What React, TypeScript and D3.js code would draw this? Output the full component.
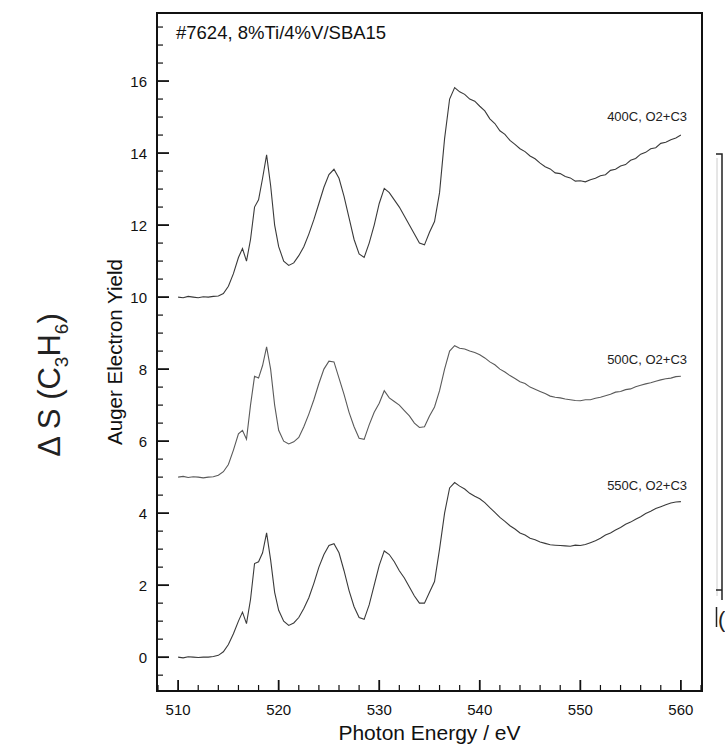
import React from "react";
import * as d3 from "d3";

const energies = [
  510, 510.5, 511, 511.5, 512, 512.5, 513, 513.5, 514, 514.5, 515, 515.5, 516,
  516.4, 516.8, 517.2, 517.6, 518, 518.4, 518.8, 519.2, 519.6, 520,
  520.5, 521, 521.5, 522, 522.5, 523, 523.5, 524, 524.5, 525, 525.5, 526, 526.5,
  527, 527.5, 528, 528.5, 529, 529.5, 530, 530.5, 531, 531.5, 532, 532.5, 533,
  533.5, 534, 534.5, 535, 535.5, 536, 536.5, 537, 537.5, 538, 538.5, 539, 539.5, 540,
  540.5, 541, 541.5, 542, 542.5, 543, 543.5, 544, 544.5, 545, 545.5, 546, 546.5,
  547, 547.5, 548, 548.5, 549, 549.5, 550, 550.5, 551, 551.5, 552, 552.5, 553,
  553.5, 554, 554.5, 555, 555.5, 556, 556.5, 557, 557.5, 558, 558.5, 559, 559.5, 560,
];

const s400 = [
  10.0, 9.98, 10.02, 10.0, 9.98, 10.01, 10.0, 10.02, 10.03, 10.1, 10.3, 10.65, 11.1,
  11.35, 11.0, 11.6, 12.5, 12.7, 13.3, 13.95, 13.1, 12.0, 11.4,
  11.0, 10.88, 10.95, 11.15, 11.4, 11.75, 12.15, 12.6, 13.05, 13.4, 13.55, 13.3, 12.8,
  12.2, 11.6, 11.2, 11.1, 11.5, 12.0, 12.6, 13.02, 12.9, 12.7, 12.5, 12.25, 12.0,
  11.75, 11.5, 11.45, 11.8, 12.1, 12.9, 14.4, 15.5, 15.82, 15.7, 15.63, 15.5, 15.44, 15.3,
  15.17, 14.95, 14.82, 14.62, 14.52, 14.35, 14.24, 14.12, 14.04, 13.92, 13.84, 13.72, 13.62,
  13.56, 13.45, 13.43, 13.35, 13.31, 13.22, 13.23, 13.2, 13.26, 13.3, 13.37, 13.4, 13.52,
  13.55, 13.64, 13.68, 13.8, 13.85, 13.97, 14.02, 14.12, 14.15, 14.27, 14.3, 14.37, 14.42, 14.5,
];

const s500 = [
  5.0, 5.02, 4.99, 5.01, 5.0, 4.98, 5.0, 5.01, 5.05, 5.15, 5.35, 5.75, 6.2,
  6.3, 6.05, 7.0, 7.8, 7.75, 8.1, 8.62, 8.0, 7.0, 6.3,
  6.0, 5.92, 5.98, 6.1, 6.4, 6.75, 7.15, 7.6, 8.0, 8.22, 8.2, 7.75, 7.3,
  6.8, 6.4, 6.08, 6.05, 6.45, 6.8, 7.05, 7.4, 7.2, 7.1, 7.0, 6.85, 6.7,
  6.5, 6.38, 6.4, 6.7, 6.95, 7.4, 8.0, 8.5, 8.65, 8.58, 8.56, 8.5, 8.46, 8.4,
  8.31, 8.2, 8.12, 8.0, 7.92, 7.82, 7.74, 7.65, 7.6, 7.5, 7.44, 7.38, 7.32,
  7.25, 7.22, 7.2, 7.17, 7.15, 7.13, 7.12, 7.15, 7.15, 7.19, 7.22, 7.26, 7.3,
  7.36, 7.38, 7.43, 7.45, 7.51, 7.55, 7.59, 7.62, 7.66, 7.7, 7.73, 7.75, 7.79, 7.8,
];

const s550 = [
  0.0, -0.02, 0.01, 0.0, -0.01, 0.0, 0.0, 0.02, 0.05, 0.15, 0.35, 0.65, 1.0,
  1.25, 0.93, 1.6, 2.6, 2.65, 2.9, 3.45, 2.7, 1.8, 1.3,
  1.0, 0.88, 0.95, 1.1, 1.35, 1.65, 2.05, 2.5, 2.85, 3.1, 3.15, 2.9, 2.4,
  1.85, 1.4, 1.1, 1.05, 1.45, 2.0, 2.55, 2.95, 2.85, 2.65, 2.4, 2.2, 1.95,
  1.7, 1.5, 1.5, 1.8, 2.1, 3.0, 4.0, 4.7, 4.85, 4.75, 4.67, 4.55, 4.47, 4.4,
  4.29, 4.15, 4.02, 3.88, 3.77, 3.65, 3.56, 3.45, 3.39, 3.3, 3.26, 3.2, 3.16,
  3.12, 3.11, 3.1, 3.09, 3.08, 3.11, 3.1, 3.13, 3.18, 3.23, 3.3, 3.39, 3.45,
  3.53, 3.6, 3.69, 3.75, 3.83, 3.9, 3.99, 4.05, 4.13, 4.18, 4.23, 4.28, 4.31, 4.32,
];

const seriesLabels = ["400C, O2+C3", "500C, O2+C3", "550C, O2+C3"];
const labelValues = [14.9, 8.15, 4.65];
const xMajor = [510, 520, 530, 540, 550, 560];
const yMajor = [0, 2, 4, 6, 8, 10, 12, 14, 16];
const titleText = "#7624, 8%Ti/4%V/SBA15";

const FONT = "'Liberation Sans', Arial, Helvetica, sans-serif";

export default function App() {
  const W = 725, H = 744;
  const left = 157, right = 702, top = 13, bottom = 691;
  const x = d3.scaleLinear().domain([507.9, 562.1]).range([left, right]);
  const y = d3.scaleLinear().domain([-0.94, 17.89]).range([bottom, top]);

  const xMinor = d3.range(508, 563, 2).filter((v) => !xMajor.includes(v));
  const yMinor = d3.range(-0.5, 17.9, 0.5).filter((v) => !yMajor.includes(v));

  const line = d3
    .line<number>()
    .x((_, i) => x(energies[i]))
    .y((d) => y(d));

  const series = [s400, s500, s550];

  return (
    <svg
      width={W}
      height={H}
      style={{ position: "absolute", left: 0, top: 0, background: "#fff" }}
      fontFamily={FONT}
    >
      <rect x={0} y={0} width={W} height={H} fill="#fff" />
      {series.map((s, i) => (
        <path
          key={i}
          d={line(s) || ""}
          fill="none"
          stroke={i === 1 ? "#5a5a5a" : "#3a3a3a"}
          strokeWidth={1.1}
        />
      ))}
      {seriesLabels.map((t, i) => (
        <text
          key={t}
          x={687}
          y={y(labelValues[i])}
          textAnchor="end"
          fontSize={13}
          fill="#222"
        >
          {t}
        </text>
      ))}
      {xMajor.map((v) => (
        <g key={"xm" + v}>
          <line x1={x(v)} x2={x(v)} y1={bottom} y2={bottom - 11} stroke="#111" strokeWidth={1.8} />
          <text x={x(v)} y={715} textAnchor="middle" fontSize={15} fill="#111">
            {v}
          </text>
        </g>
      ))}
      {xMinor.map((v) => (
        <line key={"xn" + v} x1={x(v)} x2={x(v)} y1={bottom} y2={bottom - 6} stroke="#111" strokeWidth={1.2} />
      ))}
      {yMajor.map((v) => (
        <g key={"ym" + v}>
          <line x1={left} x2={left + 12} y1={y(v)} y2={y(v)} stroke="#111" strokeWidth={1.8} />
          <text x={147} y={y(v) + 5.5} textAnchor="end" fontSize={15} fill="#111">
            {v}
          </text>
        </g>
      ))}
      {yMinor.map((v) => (
        <line key={"yn" + v} x1={left} x2={left + 6} y1={y(v)} y2={y(v)} stroke="#111" strokeWidth={1.2} />
      ))}
      <rect x={left} y={top} width={right - left} height={bottom - top} fill="none" stroke="#111" strokeWidth={2} />
      <text x={176} y={39} fontSize={18.5} fill="#111">
        {titleText}
      </text>
      <text x={(left + right) / 2} y={740} textAnchor="middle" fontSize={21} fill="#111">
        Photon Energy / eV
      </text>
      <text
        transform={`translate(122, ${(top + bottom) / 2}) rotate(-90)`}
        textAnchor="middle"
        fontSize={20.5}
        fill="#111"
      >
        Auger Electron Yield
      </text>
      <text
        transform={`translate(60, 385) rotate(-90)`}
        textAnchor="middle"
        fontSize={31}
        fill="#222"
      >
        {"\u0394 S (C"}
        <tspan fontSize={19} dy={8}>3</tspan>
        <tspan dy={-8}>H</tspan>
        <tspan fontSize={19} dy={8}>6</tspan>
        <tspan dy={-8}>)</tspan>
      </text>
      <line x1={717} x2={717} y1={158} y2={596} stroke="#ccc" strokeWidth={1} />
      <path d="M716,154 H722 V600" fill="none" stroke="#222" strokeWidth={1.5} />
      <line x1={716} x2={722} y1={590} y2={590} stroke="#222" strokeWidth={1.5} />
      <line x1={716.5} x2={716.5} y1={607} y2={627} stroke="#222" strokeWidth={1.5} />
      <text x={718} y={627} fontSize={22} fill="#222">(</text>
    </svg>
  );
}
